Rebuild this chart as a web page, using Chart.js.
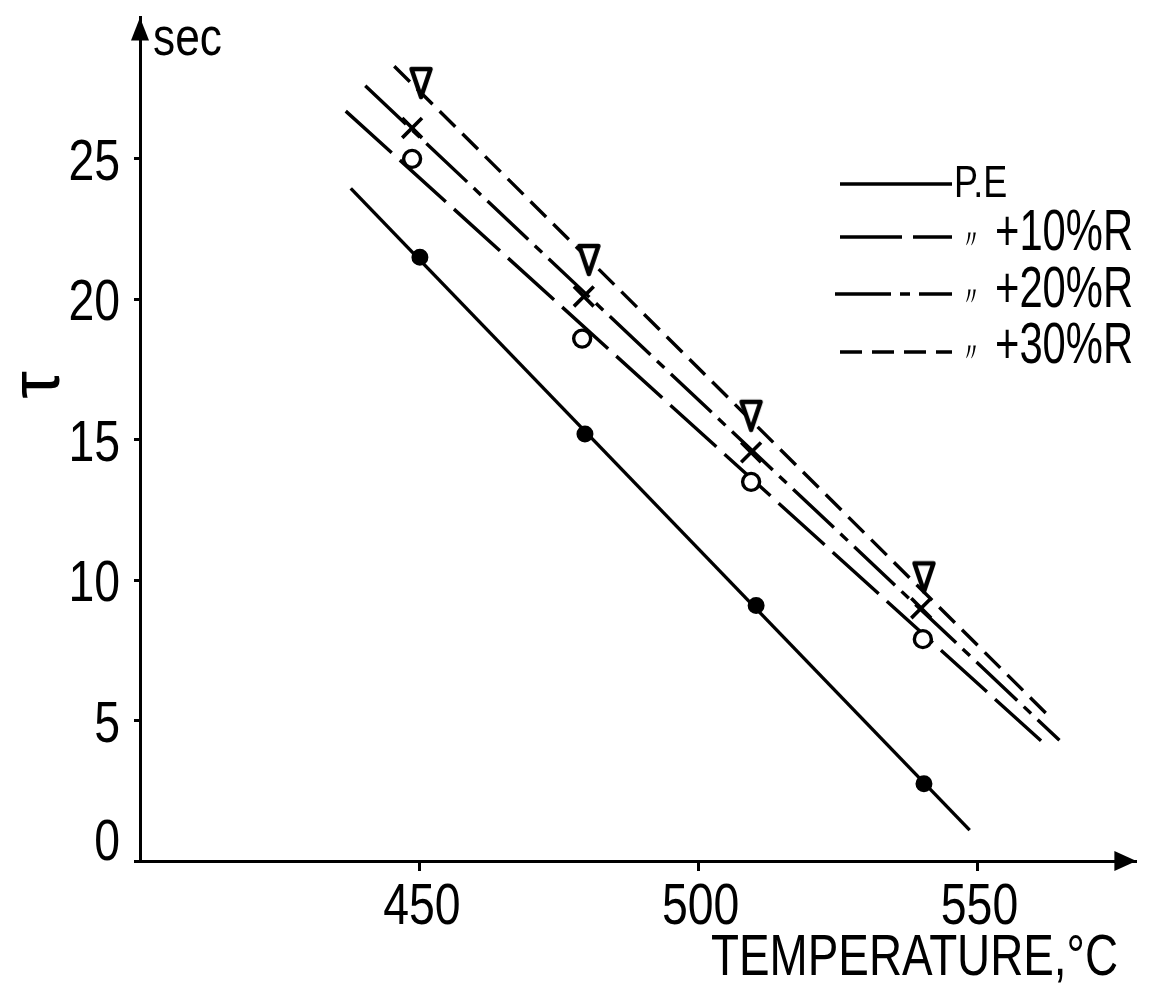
<!DOCTYPE html>
<html>
<head>
<meta charset="utf-8">
<script src="https://cdn.jsdelivr.net/npm/chart.js@4.4.1/dist/chart.umd.min.js"></script>
<style>
  html, body { margin: 0; padding: 0; background: #fff; }
</style>
</head>
<body>
<canvas id="chart" width="1154" height="985"></canvas>
<script>
// ── Data ───────────────────────────────────────────────────
const xTicks = [450, 500, 550];
const yTicks = [0, 5, 10, 15, 20, 25];

// measured points: temperature (°C) and tau (sec)
const peTemp  = [450.0, 479.6, 510.3, 540.4];
const peTau   = [21.5, 15.2, 9.1, 2.75];
const r10Temp = [448.6, 479.1, 509.4, 540.2];
const r10Tau  = [25.0, 18.6, 13.5, 7.9];
const r20Temp = [448.6, 479.4, 509.4, 539.9];
const r20Tau  = [26.1, 20.1, 14.55, 9.0];
const r30Temp = [450.2, 480.3, 509.4, 540.4];
const r30Tau  = [27.7, 21.4, 15.85, 10.1];

// hand drawn lines: start and end of each one
const peLineTemp  = [437.6, 548.6];
const peLineTau   = [23.95, 1.1];
const r10LineTemp = [436.7, 562.4];
const r10LineTau  = [26.7, 4.1];
const r20LineTemp = [440.2, 564.7];
const r20LineTau  = [27.6, 4.3];
const r30LineTemp = [445.4, 562.6];
const r30LineTau  = [28.3, 5.2];

const seriesNames = ["P.E", "+10%R", "+20%R", "+30%R"];
const DITTO = "\u3003";

// ── Styles ─────────────────────────────────────────────────
// no condensed face installed, so text is squeezed horizontally by hand
const FONT = "'Liberation Sans', Arial, sans-serif";
const DASH = {
  pe:  [],
  r10: [62, 11],
  r20: [56, 9, 10, 9],
  r30: [22, 10],
};

function pts(xs, ys) {
  return xs.map((x, i) => ({ x, y: ys[i] }));
}

function squeezed(ctx, text, x, y, size, sx, align) {
  ctx.save();
  ctx.translate(x, y);
  ctx.scale(sx, 1);
  ctx.font = size + "px " + FONT;
  ctx.textAlign = align;
  ctx.textBaseline = "alphabetic";
  ctx.fillText(text, 0, 0);
  ctx.restore();
}

// narrow downward triangle used as the +30%R marker
function triangleMarker() {
  const c = document.createElement("canvas");
  c.width = 26; c.height = 36;
  const g = c.getContext("2d");
  g.lineWidth = 4.5;
  g.lineJoin = "round";
  g.beginPath();
  g.moveTo(3.5, 4);
  g.lineTo(22.5, 4);
  g.lineTo(13, 32);
  g.closePath();
  g.fillStyle = "#fff";
  g.fill();
  g.strokeStyle = "#000";
  g.stroke();
  return c;
}

function lineSet(data, dash) {
  return {
    data, showLine: true, borderColor: "#000", borderWidth: 3.4,
    borderDash: dash, pointRadius: 0, fill: false, order: 2,
  };
}

function markerSet(data, style, radius, bg, bw) {
  return {
    data, showLine: false, pointStyle: style, pointRadius: radius,
    pointBorderWidth: bw, pointBorderColor: "#000", pointBackgroundColor: bg, order: 0,
  };
}

// ── Tick labels, arrows, titles and legend ─────────────────
const decorations = {
  id: "decorations",
  afterDraw(chart) {
    const { ctx, chartArea: a, scales } = chart;
    ctx.save();
    ctx.fillStyle = "#000";
    ctx.strokeStyle = "#000";

    // tick labels
    scales.x.ticks.forEach((t) => {
      squeezed(ctx, String(t.value), scales.x.getPixelForValue(t.value) + 2, 924, 58, 0.8, "center");
    });
    scales.y.ticks.forEach((t) => {
      // the zero sits a little above the axis in the drawing
      const lift = t.value === 0 ? 22 : 0;
      squeezed(ctx, String(t.value), 120, scales.y.getPixelForValue(t.value) + 21 - lift, 58, 0.8, "right");
    });

    // arrowheads
    ctx.beginPath();
    ctx.moveTo(a.right, a.bottom);
    ctx.lineTo(a.right - 22, a.bottom - 10);
    ctx.lineTo(a.right - 22, a.bottom + 10);
    ctx.closePath();
    ctx.fill();
    ctx.beginPath();
    ctx.moveTo(a.left, a.top);
    ctx.lineTo(a.left - 9, a.top + 23);
    ctx.lineTo(a.left + 9, a.top + 23);
    ctx.closePath();
    ctx.fill();

    // unit and axis titles
    squeezed(ctx, "sec", 153, 55, 54, 0.82, "left");
    squeezed(ctx, "TEMPERATURE,°C", 1118, 975, 58, 0.79, "right");

    ctx.save();
    ctx.translate(40, 385);
    ctx.rotate(-Math.PI / 2);
    ctx.textAlign = "center";
    ctx.textBaseline = "middle";
    ctx.font = "70px " + FONT;
    ctx.fillText("\u03C4", 0, 0);
    ctx.restore();

    // legend
    const rows = [
      { y: 184, x0: 840, dash: DASH.pe,  base: 197 },
      { y: 237, x0: 840, dash: DASH.r10, base: 250 },
      { y: 294, x0: 835, dash: DASH.r20, base: 307 },
      { y: 352, x0: 840, dash: DASH.r30, base: 363 },
    ];
    ctx.lineWidth = 3.4;
    rows.forEach((r, i) => {
      ctx.setLineDash(r.dash);
      ctx.beginPath();
      ctx.moveTo(r.x0, r.y);
      ctx.lineTo(952, r.y);
      ctx.stroke();
      ctx.setLineDash([]);
      if (i === 0) {
        squeezed(ctx, seriesNames[i], 954, r.base, 45, 0.8, "left");
      } else {
        ctx.font = "26px " + FONT;
        ctx.textAlign = "left";
        ctx.fillText(DITTO, 958, r.base - 2);
        squeezed(ctx, seriesNames[i], 995, r.base, 58, 0.72, "left");
      }
    });
    ctx.restore();
  },
};

// ── Chart ──────────────────────────────────────────────────
new Chart(document.getElementById("chart"), {
  type: "scatter",
  data: {
    datasets: [
      lineSet(pts(peLineTemp, peLineTau), DASH.pe),
      lineSet(pts(r10LineTemp, r10LineTau), DASH.r10),
      lineSet(pts(r20LineTemp, r20LineTau), DASH.r20),
      lineSet(pts(r30LineTemp, r30LineTau), DASH.r30),
      markerSet(pts(peTemp, peTau), "circle", 7.5, "#000", 2),
      markerSet(pts(r10Temp, r10Tau), "circle", 8.5, "#fff", 3.4),
      markerSet(pts(r20Temp, r20Tau), "crossRot", 14, "#000", 3.6),
      markerSet(pts(r30Temp, r30Tau), triangleMarker(), 13, "#fff", 0),
    ],
  },
  options: {
    responsive: false,
    animation: false,
    devicePixelRatio: 1,
    layout: { padding: { left: 0, right: 6, top: 13, bottom: 0 } },
    plugins: { legend: { display: false }, tooltip: { enabled: false } },
    scales: {
      x: {
        type: "linear",
        min: 399.8,
        max: 578.5,
        afterBuildTicks: (s) => { s.ticks = xTicks.map((v) => ({ value: v })); },
        afterFit: (s) => { s.height = 124; },
        border: { display: true, color: "#000", width: 3 },
        grid: { drawOnChartArea: false, drawTicks: true, tickLength: 10, tickColor: "#000", tickWidth: 3 },
        ticks: { display: false },
      },
      y: {
        type: "linear",
        min: 0,
        max: 30.03,
        afterBuildTicks: (s) => { s.ticks = yTicks.map((v) => ({ value: v })); },
        afterFit: (s) => { s.width = 140; },
        border: { display: true, color: "#000", width: 3 },
        grid: { drawOnChartArea: false, drawTicks: true, tickLength: 6, tickColor: "#000", tickWidth: 3 },
        ticks: { display: false },
      },
    },
  },
  plugins: [decorations],
});
</script>
</body>
</html>
